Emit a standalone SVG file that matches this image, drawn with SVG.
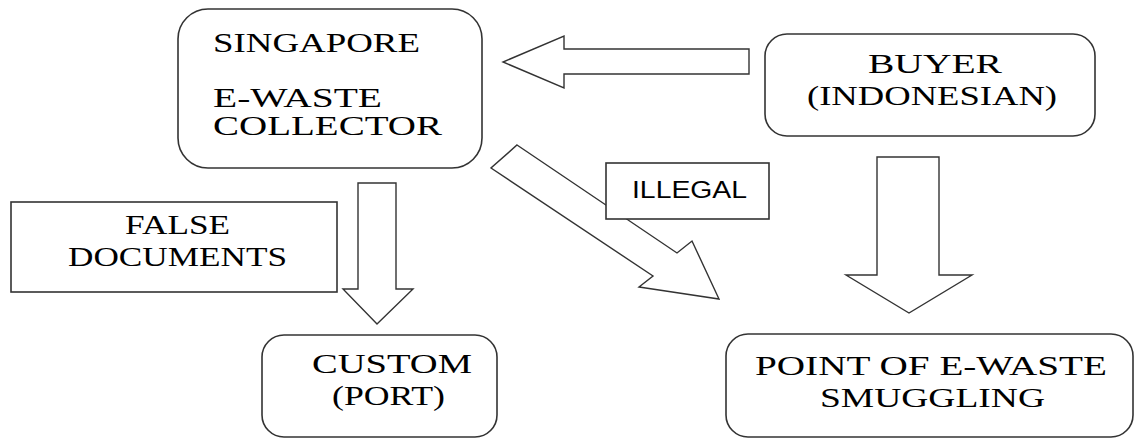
<svg xmlns="http://www.w3.org/2000/svg" width="1137" height="439" viewBox="0 0 1137 439">
<style>
.box{fill:#fff;stroke:#333;stroke-width:1.6}
.arrow{fill:#fff;stroke:#333;stroke-width:1.4;stroke-linejoin:miter}
.t{font-family:"Liberation Serif","Times New Roman",serif;font-size:27px;fill:#000}
.s{font-family:"Liberation Sans",Arial,sans-serif;font-size:23px;fill:#000}
</style>
<rect width="1137" height="439" fill="#fff"/>
<g id="connectors">
<polygon class="arrow" points="749,49 564,49 564,36 503,62 564,88 564,74 749,74"/>
<polygon class="arrow" points="358,183 396,183 396,289 413,289 377,324 343,289 358,289"/>
<polygon class="arrow" points="877,157 939,157 939,275 972,275 909,313 846,275 877,275"/>
<polygon class="arrow" points="517,145 677,253 692,241 719,299 639,287 653,276 491,168"/>
</g>
<g id="singapore">
<rect class="box" x="178" y="9" width="304" height="159" rx="30"/>
<text class="t" x="213" y="52" font-size="28" textLength="207" lengthAdjust="spacingAndGlyphs">SINGAPORE</text>
<text class="t" x="213" y="107" font-size="28" textLength="169" lengthAdjust="spacingAndGlyphs">E-WASTE</text>
<text class="t" x="213" y="135" font-size="28" textLength="229" lengthAdjust="spacingAndGlyphs">COLLECTOR</text>
</g>
<g id="buyer">
<rect class="box" x="765" y="34" width="330" height="102" rx="22"/>
<text class="t" x="868" y="73" textLength="134" lengthAdjust="spacingAndGlyphs">BUYER</text>
<text class="t" x="807" y="105" textLength="250" lengthAdjust="spacingAndGlyphs">(INDONESIAN)</text>
</g>
<g id="false-documents">
<rect class="box" x="11" y="202" width="326" height="90"/>
<text class="t" x="125" y="234" textLength="105" lengthAdjust="spacingAndGlyphs">FALSE</text>
<text class="t" x="68" y="266" textLength="219" lengthAdjust="spacingAndGlyphs">DOCUMENTS</text>
</g>
<g id="illegal">
<rect class="box" x="606" y="163" width="163" height="56"/>
<text class="s" x="632" y="198" textLength="115" lengthAdjust="spacingAndGlyphs">ILLEGAL</text>
</g>
<g id="custom">
<rect class="box" x="262" y="335" width="235" height="102" rx="22"/>
<text class="t" x="312" y="373" textLength="160" lengthAdjust="spacingAndGlyphs">CUSTOM</text>
<text class="t" x="332" y="405" textLength="113" lengthAdjust="spacingAndGlyphs">(PORT)</text>
</g>
<g id="point">
<rect class="box" x="726" y="334" width="407" height="103" rx="22"/>
<text class="t" x="755" y="375" font-size="29" textLength="352" lengthAdjust="spacingAndGlyphs">POINT OF E-WASTE</text>
<text class="t" x="820" y="407" font-size="28" textLength="225" lengthAdjust="spacingAndGlyphs">SMUGGLING</text>
</g>
</svg>
